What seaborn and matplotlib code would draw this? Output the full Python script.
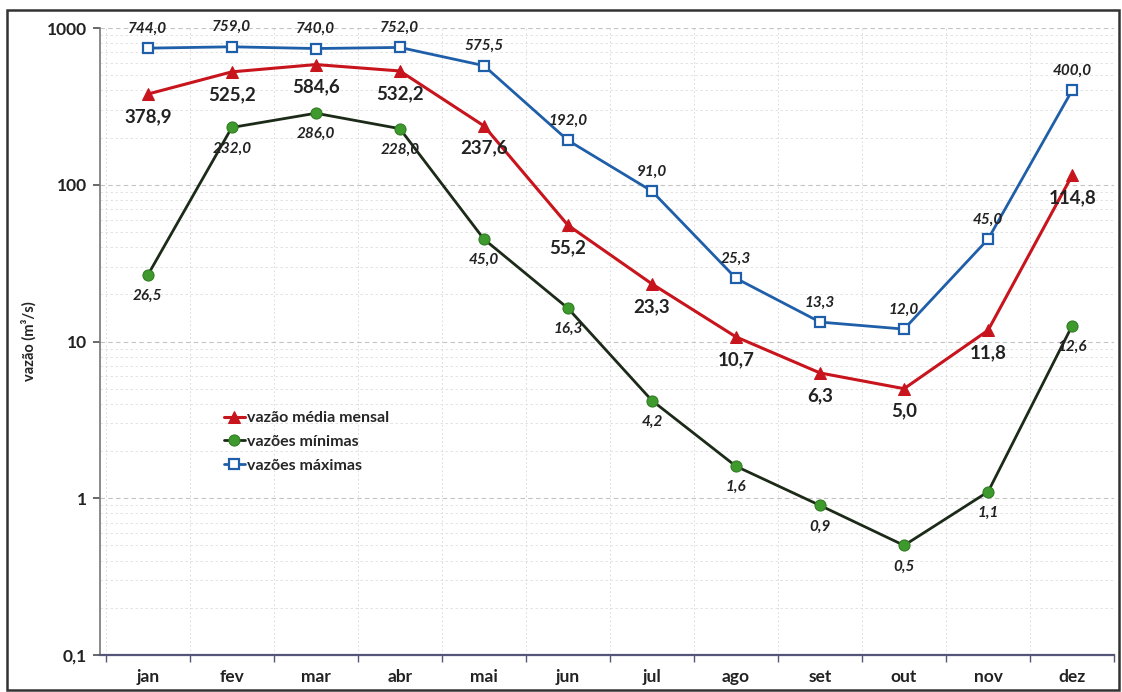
import matplotlib
matplotlib.use("Agg")
import matplotlib.pyplot as plt
import seaborn as sns
import pandas as pd
import numpy as np
from matplotlib.patches import Rectangle
from matplotlib.ticker import FixedLocator, LogLocator, NullFormatter

months = ["jan", "fev", "mar", "abr", "mai", "jun", "jul", "ago", "set", "out", "nov", "dez"]
vazao_media = [378.9, 525.2, 584.6, 532.2, 237.6, 55.2, 23.3, 10.7, 6.3, 5.0, 11.8, 114.8]
vazoes_minimas = [26.5, 232.0, 286.0, 228.0, 45.0, 16.3, 4.2, 1.6, 0.9, 0.5, 1.1, 12.6]
vazoes_maximas = [744.0, 759.0, 740.0, 752.0, 575.5, 192.0, 91.0, 25.3, 13.3, 12.0, 45.0, 400.0]

y_ticks = [0.1, 1, 10, 100, 1000]
y_tick_labels = ["0,1", "1", "10", "100", "1000"]

sns.set_theme(style="white")
plt.rcParams["font.family"] = ["Lato", "DejaVu Sans"]

fig = plt.figure(figsize=(11.22, 6.92), dpi=100)
ax = fig.add_axes([0.089, 0.0535, 0.904, 0.906])

x = np.arange(len(months))
df = pd.DataFrame({"x": x, "mes": months,
                   "media": vazao_media, "min": vazoes_minimas, "max": vazoes_maximas})

red = "#c8141c"
green_line = "#1c2a18"
green_mk = "#3f9a2e"
blue = "#1f5ea8"

sns.lineplot(data=df, x="x", y="media", ax=ax, color=red, lw=2.2, marker="^",
             markersize=9, markeredgecolor=red, markerfacecolor=red,
             label="vazão média mensal", zorder=4)
sns.lineplot(data=df, x="x", y="min", ax=ax, color=green_line, lw=2.0, marker="o",
             markersize=8, markeredgecolor="#2e7a22", markerfacecolor=green_mk,
             label="vazões mínimas", zorder=4)
sns.lineplot(data=df, x="x", y="max", ax=ax, color=blue, lw=2.0, marker="s",
             markersize=6.5, markeredgecolor=blue, markerfacecolor="white",
             markeredgewidth=1.6, label="vazões máximas", zorder=5)

ax.set_yscale("log")
ax.set_ylim(0.1, 1000)
ax.set_xlim(-0.57, 11.5)

def fmt(v):
    return f"{v:.1f}".replace(".", ",")

# value labels
for xi, v in zip(x, vazoes_maximas):
    ax.annotate(fmt(v), (xi, v), xytext=(0, 9), textcoords="offset points",
                ha="center", va="bottom", fontsize=11, fontstyle="italic",
                fontweight="bold", color="#222222", zorder=6)
for xi, v in zip(x, vazao_media):
    ax.annotate(fmt(v), (xi, v), xytext=(0, -10), textcoords="offset points",
                ha="center", va="top", fontsize=13.5, fontweight="bold",
                color="#222222", zorder=6)
for xi, v in zip(x, vazoes_minimas):
    ax.annotate(fmt(v), (xi, v), xytext=(0, -10), textcoords="offset points",
                ha="center", va="top", fontsize=11, fontstyle="italic",
                fontweight="bold", color="#222222", zorder=6)

# axes styling
ax.set_xticks(x)
ax.set_xticklabels(months, fontsize=12.5, fontweight="bold", color="#222222")
ax.xaxis.set_minor_locator(FixedLocator(np.arange(-0.5, 12, 1)))
ax.tick_params(axis="x", which="major", length=0, pad=10)
ax.tick_params(axis="x", which="minor", length=5, color="#555577", direction="out", bottom=True)
ax.set_yticks(y_ticks)
ax.set_yticklabels(y_tick_labels, fontsize=12.5, fontweight="bold", color="#222222")
ax.yaxis.set_minor_locator(LogLocator(base=10, subs=np.arange(2, 10)))
ax.yaxis.set_minor_formatter(NullFormatter())
ax.tick_params(axis="y", which="major", length=5, color="#555555", left=True, pad=4)
ax.tick_params(axis="y", which="minor", length=0)
ax.set_xlabel("")
ax.set_ylabel("vazão (m³/s)", fontsize=10.5, fontweight="bold", color="#222222")
ax.yaxis.set_label_coords(-0.062, 0.5)

ax.grid(True, which="major", axis="y", color="#c4c4c4", lw=0.8, ls=(0, (4, 3)))
ax.grid(True, which="minor", axis="y", color="#dedede", lw=0.6, ls=(0, (3, 3)))
ax.grid(True, which="minor", axis="x", color="#d6d6d6", lw=0.6, ls=(0, (2, 3)))

for side in ["top", "right"]:
    ax.spines[side].set_visible(False)
ax.spines["left"].set_color("#777777")
ax.spines["left"].set_linewidth(1.2)
ax.spines["bottom"].set_color("#55557a")
ax.spines["bottom"].set_linewidth(1.6)

leg = ax.legend(loc="upper left", bbox_to_anchor=(0.108, 0.412), frameon=False,
                handlelength=1.3, handletextpad=0.15, labelspacing=0.6,
                prop={"family": ["Lato", "DejaVu Sans"], "weight": "bold", "size": 11.5})

# outer frame around the figure
fig.patches.append(Rectangle((7 / 1122, 2 / 692), 1112 / 1122, 680 / 692,
                             transform=fig.transFigure, fill=False,
                             edgecolor="#333333", lw=1.8, zorder=0))

fig.savefig("out.png", dpi=100)
